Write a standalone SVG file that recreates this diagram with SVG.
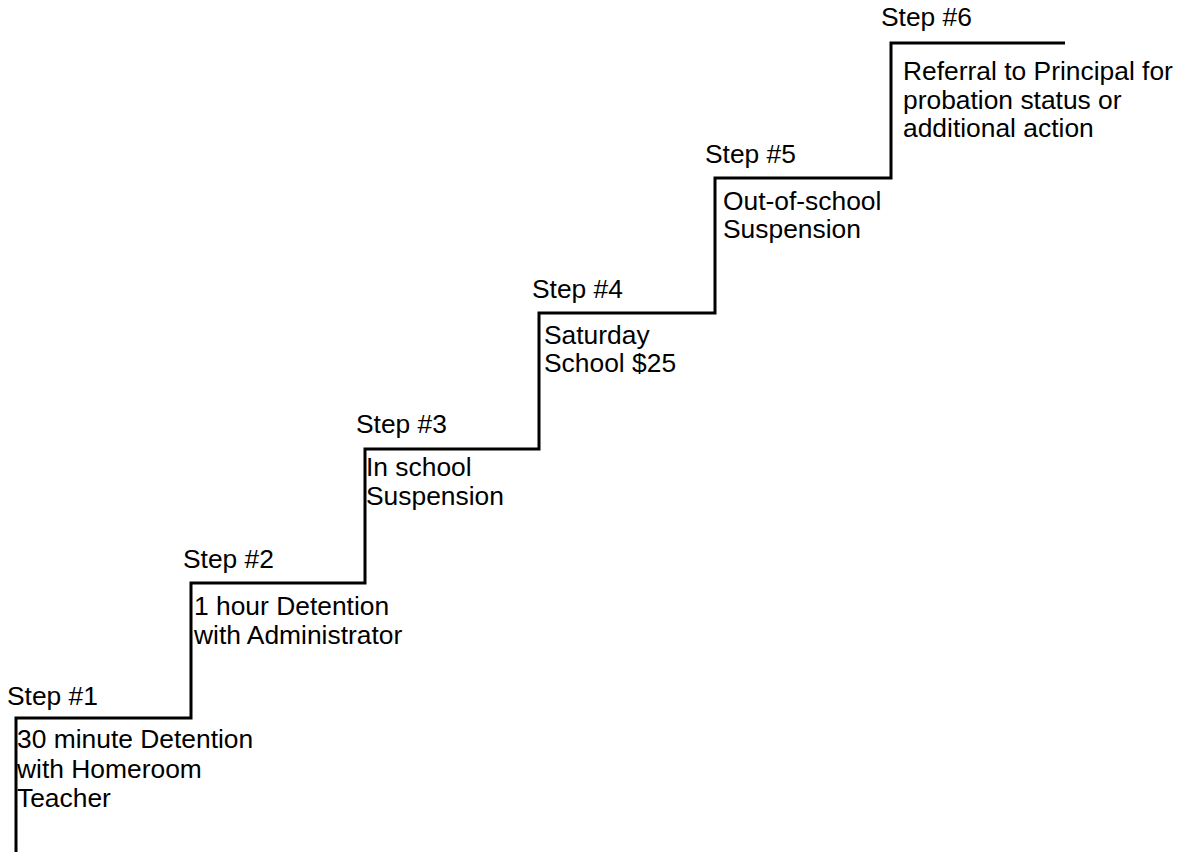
<svg xmlns="http://www.w3.org/2000/svg" width="1181" height="852" viewBox="0 0 1181 852">
<style>
text{font-family:"Liberation Sans",Arial,sans-serif;font-size:26.4px;fill:#000}
.stair{fill:none;stroke:#000;stroke-width:3;stroke-linejoin:miter;stroke-linecap:butt}
</style>
<rect width="1181" height="852" fill="#fff"/>
<g id="connectors">
<path class="stair" d="M16,852 V718 H191 V583 H365 V449 H539 V313 H715 V178 H891 V43 H1065"/>
</g>
<g id="step1">
<text x="7" y="705">Step #1</text>
<text x="17" y="748">30 minute Detention</text>
<text x="17" y="777.5">with Homeroom</text>
<text x="17" y="806.5">Teacher</text>
</g>
<g id="step2">
<text x="183" y="568">Step #2</text>
<text x="194" y="615">1 hour Detention</text>
<text x="194" y="643.5">with Administrator</text>
</g>
<g id="step3">
<text x="356" y="433">Step #3</text>
<text x="366" y="476">In school</text>
<text x="366" y="505">Suspension</text>
</g>
<g id="step4">
<text x="532" y="298">Step #4</text>
<text x="544" y="344">Saturday</text>
<text x="544" y="372">School $25</text>
</g>
<g id="step5">
<text x="705" y="163">Step #5</text>
<text x="723" y="210">Out-of-school</text>
<text x="723" y="238">Suspension</text>
</g>
<g id="step6">
<text x="881" y="26">Step #6</text>
<text x="903" y="80">Referral to Principal for</text>
<text x="903" y="108.5">probation status or</text>
<text x="903" y="136.5">additional action</text>
</g>
</svg>
